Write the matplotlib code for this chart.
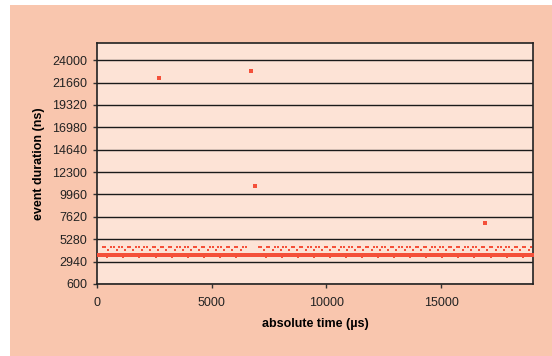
import matplotlib
matplotlib.use("Agg")
import matplotlib.pyplot as plt
from matplotlib.patches import Rectangle

plt.rcParams['font.family'] = ['Liberation Sans', 'DejaVu Sans']

# main band of events (~3600 ns)
main_t = [0, 100, 200, 300, 400, 500, 600, 700, 800, 900, 1000, 1100, 1200, 1300, 1400, 1500, 1600, 1700, 1800, 1900,
          2000, 2100, 2200, 2300, 2400, 2500, 2600, 2700, 2800, 2900, 3000, 3100, 3200, 3300, 3400, 3500, 3600, 3700,
          3800, 3900, 4000, 4100, 4200, 4300, 4400, 4500, 4600, 4700, 4800, 4900, 5000, 5100, 5200, 5300, 5400, 5500,
          5600, 5700, 5800, 5900, 6000, 6100, 6200, 6300, 6400, 6500, 6600, 6700,
          6900, 7000, 7100, 7200, 7300, 7400, 7500, 7600, 7700, 7800, 7900, 8000, 8100, 8200, 8300, 8400, 8500,
          8600, 8700, 8800, 8900, 9000, 9100, 9200, 9300, 9400, 9500, 9600, 9700, 9800, 9900, 10000, 10100, 10200,
          10300, 10400, 10500, 10600, 10700, 10800, 10900, 11000, 11100, 11200, 11300, 11400, 11500, 11600, 11700,
          11800, 11900, 12000, 12100, 12200, 12300, 12400, 12500, 12600, 12700, 12800, 12900, 13000, 13100, 13200,
          13300, 13400, 13500, 13600, 13700, 13800, 13900, 14000, 14100, 14200, 14300, 14400, 14500, 14600, 14700,
          14800, 14900, 15000, 15100, 15200, 15300, 15400, 15500, 15600, 15700, 15800, 15900, 16000, 16100, 16200,
          16300, 16400, 16500, 16600, 16700, 16800, 16900, 17000, 17100, 17200, 17300, 17400, 17500, 17600, 17700,
          17800, 17900, 18000, 18100, 18200, 18300, 18400, 18500, 18600, 18700, 18800, 18900, 19000]
main_d = 3600

# slightly shorter events just under the main band
low_t = [450, 1150, 1850, 2550, 3250, 3950, 4650, 5350, 6050, 7350, 8050, 8750, 9450, 10150, 10850,
         11550, 12250, 12950, 13650, 14350, 15050, 15750, 16450, 17150, 17850, 18550]
low_d = 3450

# upper dotted row (~4450 ns)
upper_t = [250, 360, 620, 730, 980, 1090, 1330, 1440, 1700, 1810, 2050, 2160, 2420, 2530, 2770, 2880,
           3130, 3240, 3490, 3600, 3850, 3960, 4210, 4320, 4570, 4680, 4930, 5040, 5290, 5400, 5650, 5760,
           6010, 6120, 6370, 6480, 7050, 7160, 7400, 7510, 7760, 7870, 8120, 8230, 8480, 8590, 8840, 8950,
           9200, 9310, 9560, 9670, 9920, 10030, 10280, 10390, 10640, 10750, 11000, 11110, 11360, 11470,
           11720, 11830, 12080, 12190, 12440, 12550, 12800, 12910, 13160, 13270, 13520, 13630, 13880, 13990,
           14240, 14350, 14600, 14710, 14960, 15070, 15320, 15430, 15680, 15790, 16040, 16150, 16400, 16510,
           16760, 16870, 17120, 17230, 17480, 17590, 17840, 17950, 18200, 18310, 18560, 18670, 18920]
upper_d = 4450

# in-between dots (~4150 ns)
mid_t = [500, 870, 1220, 1590, 1950, 2300, 2660, 3020, 3380, 3740, 4100, 4460, 4820, 5180, 5540, 5900,
         6260, 7290, 7650, 8010, 8370, 8730, 9090, 9450, 9810, 10170, 10530, 10890, 11250, 11610, 11970,
         12330, 12690, 13050, 13410, 13770, 14130, 14490, 14850, 15210, 15570, 15930, 16290, 16650,
         17010, 17370, 17730, 18090, 18450, 18810]
mid_d = 4150

# isolated long events
out_t = [2700, 6700, 6900, 16900]
out_d = [22100, 22900, 10800, 6950]

yticks = [600, 2940, 5280, 7620, 9960, 12300, 14640, 16980, 19320, 21660, 24000]
xticks = [0, 5000, 10000, 15000]

red = '#F4503A'
fig = plt.figure(figsize=(5.52, 3.56), dpi=100, facecolor='white')
fig.patches.append(Rectangle((10 / 552, 0), 1, 1 - 5 / 356, transform=fig.transFigure,
                             facecolor='#F9C6AE', edgecolor='none', zorder=-1))
ax = fig.add_axes([97 / 552, 1 - 284 / 356, 436 / 552, 241 / 356])
ax.set_facecolor('#FDE3D6')

ax.scatter(main_t, [main_d] * len(main_t), s=6, marker='s', color=red, linewidths=0, zorder=3)
ax.scatter(low_t, [low_d] * len(low_t), s=4, marker='s', color=red, linewidths=0, zorder=3)
ax.scatter(upper_t, [upper_d] * len(upper_t), s=4, marker='s', color=red, linewidths=0, zorder=3)
ax.scatter(mid_t, [mid_d] * len(mid_t), s=4, marker='s', color=red, linewidths=0, zorder=3)
ax.scatter(out_t, out_d, s=5, marker='s', color=red, linewidths=0, zorder=3)

ax.set_xlim(0, 19000)
ax.set_ylim(600, 25800)
ax.set_yticks(yticks)
ax.set_xticks(xticks)
ax.grid(axis='y', color='#1a1a1a', linewidth=1)
ax.set_axisbelow(True)
for sp in ax.spines.values():
    sp.set_color('#222222')
    sp.set_linewidth(1.2)
ax.tick_params(axis='both', direction='out', length=3, width=1, color='#333333',
               labelsize=9, labelcolor='#222222')
ax.tick_params(axis='y', pad=4)
ax.tick_params(axis='x', pad=6)
ax.set_xlabel('absolute time (µs)', fontsize=9, fontweight='bold', labelpad=7)
ax.set_ylabel('event duration (ns)', fontsize=9, fontweight='bold', labelpad=5)

fig.savefig('out.png', dpi=100, facecolor=fig.get_facecolor())
